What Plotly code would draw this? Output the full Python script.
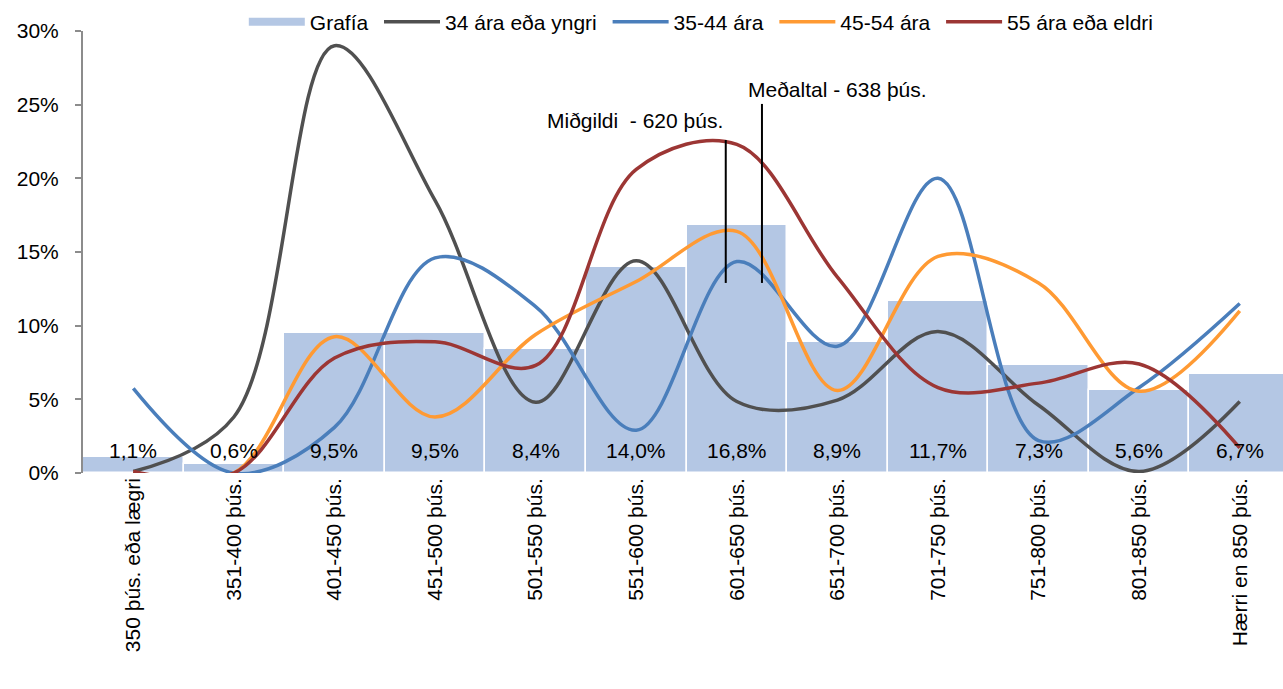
import plotly.graph_objects as go

# Income brackets (þús. kr.)
categories = ["350 þús. eða lægri", "351-400 þús.", "401-450 þús.", "451-500 þús.",
              "501-550 þús.", "551-600 þús.", "601-650 þús.", "651-700 þús.",
              "701-750 þús.", "751-800 þús.", "801-850 þús.", "Hærri en 850 þús."]
bracket_mid = [325.5, 375.5, 425.5, 475.5, 525.5, 575.5, 625.5, 675.5, 725.5, 775.5, 825.5, 875.5]

# Overall distribution (bars), in %
grafia = [1.1, 0.6, 9.5, 9.5, 8.4, 14.0, 16.8, 8.9, 11.7, 7.3, 5.6, 6.7]

# Distribution by age group, in %
age_34 = [0.1, 3.8, 29.0, 18.5, 4.8, 14.4, 4.85, 4.95, 9.6, 4.6, 0.1, 4.85]
age_35_44 = [5.75, 0.0, 3.1, 14.6, 11.3, 2.9, 14.35, 8.6, 20.0, 2.2, 5.8, 11.5]
age_45_54 = [0.0, 0.0, 9.25, 3.8, 9.4, 13.0, 16.4, 5.6, 14.7, 12.9, 5.55, 11.0]
age_55 = [0.1, 0.0, 7.8, 8.9, 7.3, 20.6, 22.3, 13.3, 5.8, 6.1, 7.4, 1.7]

median_value = 620
mean_value = 638

FONT = "Liberation Sans, Arial, sans-serif"
FS = 21
BAR_COLOR = "#B4C7E4"
PAD = "\u00a0"  # a little extra room after each legend label

x = list(range(len(categories)))


def to_axis(v):
    """Map a salary (þús.) onto the category axis."""
    width = bracket_mid[1] - bracket_mid[0]
    for i, m in enumerate(bracket_mid):
        if abs(v - m) <= width / 2:
            return i + (v - m) / width
    return (v - bracket_mid[0]) / width


fig = go.Figure()

fig.add_trace(go.Bar(
    x=x, y=grafia, name="Grafía", showlegend=False,
    marker=dict(color=BAR_COLOR, line=dict(color="white", width=1.5)),
    width=1.0,
))
# legend entry for the bars drawn as a wide flat swatch
fig.add_trace(go.Scatter(
    x=[None], y=[None], name="Grafía" + PAD, mode="lines",
    line=dict(color=BAR_COLOR, width=8),
))

series = [
    ("34 ára eða yngri", age_34, "#505050"),
    ("35-44 ára", age_35_44, "#4A7EBB"),
    ("45-54 ára", age_45_54, "#FF9A33"),
    ("55 ára eða eldri", age_55, "#9C3634"),
]
for name, vals, col in series:
    fig.add_trace(go.Scatter(
        x=x, y=vals, name=name + PAD, mode="lines",
        line=dict(color=col, width=3.5, shape="spline", smoothing=1.0),
    ))

# value labels near the base of each bar
for xi, v in zip(x, grafia):
    fig.add_annotation(
        x=xi, y=1.55, text=f"{v:.1f}%".replace(".", ","), showarrow=False,
        font=dict(family=FONT, size=FS, color="black"), yanchor="middle",
    )

# median and mean markers
xm = to_axis(median_value)
xa = to_axis(mean_value)
fig.add_shape(type="line", x0=xm, x1=xm, y0=12.9, y1=22.6,
              line=dict(color="black", width=2))
fig.add_shape(type="line", x0=xa, x1=xa, y0=12.9, y1=25.05,
              line=dict(color="black", width=2))
fig.add_annotation(x=5.885, y=23.95, text=f"Miðgildi  - {median_value} þús.",
                   showarrow=False, xanchor="right", yanchor="middle",
                   font=dict(family=FONT, size=FS, color="black"))
fig.add_annotation(x=6.09, y=26.05, text=f"Meðaltal - {mean_value} þús.",
                   showarrow=False, xanchor="left", yanchor="middle",
                   font=dict(family=FONT, size=FS, color="black"))

fig.update_layout(
    width=1283, height=689,
    margin=dict(l=83, r=0, t=31, b=216),
    plot_bgcolor="white", paper_bgcolor="white",
    font=dict(family=FONT, size=FS, color="black"),
    bargap=0,
    showlegend=True,
    legend=dict(orientation="h", x=0.134, xanchor="left", y=1.02, yanchor="middle",
                font=dict(family=FONT, size=FS, color="black"),
                itemwidth=56, tracegroupgap=0, bgcolor="rgba(0,0,0,0)"),
    xaxis=dict(
        range=[-0.5, 11.43], tickmode="array", tickvals=x, ticktext=categories,
        tickangle=-90, showgrid=False, zeroline=False, showline=False, ticks="",
        tickfont=dict(family=FONT, size=FS, color="black"),
    ),
    yaxis=dict(
        range=[0, 30], dtick=5, ticksuffix="%", showgrid=False, zeroline=False,
        showline=True, linecolor="#8C8C8C", linewidth=2, ticks="outside",
        ticklen=6, tickcolor="#8C8C8C", tickwidth=2,
        tickfont=dict(family=FONT, size=FS, color="black"),
        ticklabelstandoff=12,
    ),
)

fig.write_html("out.html")
